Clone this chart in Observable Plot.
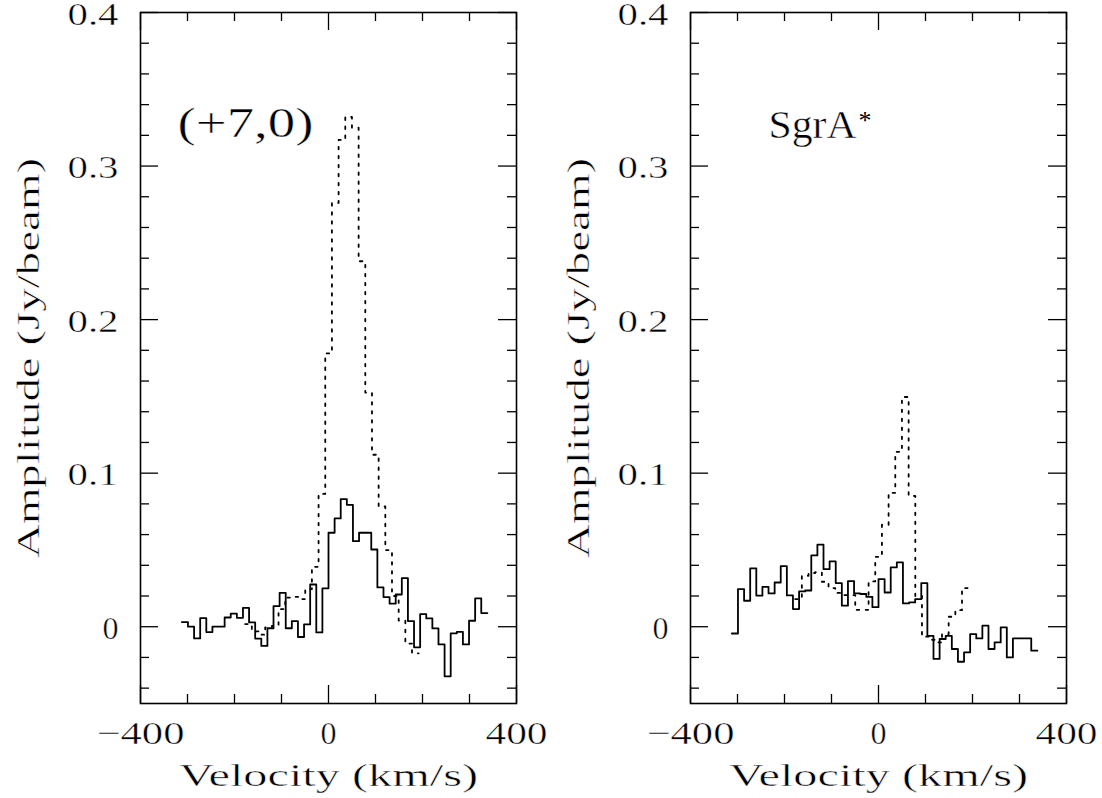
<!DOCTYPE html>
<html><head><meta charset="utf-8">
<script src="https://cdn.jsdelivr.net/npm/d3@7"></script>
<script src="https://cdn.jsdelivr.net/npm/@observablehq/plot@0.6"></script>
<style>
html,body{margin:0;padding:0;background:#fff;}
#wrap{position:relative;width:1102px;height:798px;background:#fff;}
#wrap svg{position:absolute;top:0;}
#wrap svg text{font-family:"Liberation Serif","Times New Roman",serif;}
</style></head><body><div id="wrap"></div>
<script>
// Channel grids (km/s)
const solidStart = -312, solidWidth = 13;
const dottedStart = -177.3, dottedWidth = 14.2;

// Left panel (+7,0)
const leftSolid = [0.003, 0.000, -0.0076, 0.0056, -0.0035, 0.000, 0.000, 0.006, 0.0085, 0.0058,
  0.0123, 0.0028, -0.0077, -0.0125, -0.001, 0.0134, 0.0221, -0.001, 0.0037, -0.0067,
  0.0015, 0.0275, -0.0037, 0.025, 0.0612, 0.0705, 0.0831, 0.0794, 0.0557, 0.0612,
  0.0612, 0.0503, 0.0256, 0.0193, 0.015, 0.021, 0.0317, 0.0037, -0.0134, 0.0082,
  0.0054, -0.0011, -0.0115, -0.0323, -0.0043, -0.0033, -0.0115, 0.0039, 0.0184, 0.0089];
const leftDotted = [0.0017, -0.003, -0.0052, -0.0004, 0.0006, 0.0115, 0.019, 0.0195, 0.018, 0.0245,
  0.039, 0.0865, 0.178, 0.276, 0.317, 0.332, 0.325, 0.238, 0.1525, 0.112,
  0.0783, 0.0499, 0.020, 0.004, -0.011, -0.0173];

// Right panel SgrA*
const rightSolid = [-0.0044, 0.0245, 0.0169, 0.038, 0.0202, 0.026, 0.0217, 0.0288, 0.0395, 0.0204,
  0.0115, 0.023, 0.0236, 0.0464, 0.0534, 0.0375, 0.0425, 0.0284, 0.0137, 0.0297,
  0.0217, 0.0213, 0.0195, 0.0127, 0.031, 0.0223, 0.0386, 0.0419, 0.0152, 0.0158,
  0.018, 0.0284, -0.0059, -0.021, -0.008, -0.0059, -0.0145, -0.0228, -0.0167, -0.0048,
  -0.0076, 0.0007, -0.0145, -0.0102, -0.0004, -0.02, -0.0076, -0.0076, -0.0076, -0.0156];
const rightDotted = [0.018, 0.0332, 0.035, 0.0355, 0.0293, 0.0252, 0.022, 0.0206, 0.0206, 0.011,
  0.011, 0.0295, 0.0455, 0.0664, 0.0872, 0.1139, 0.1496, 0.0852, 0.020, -0.0065,
  -0.0085, -0.0102, -0.0048, 0.0065, 0.0108, 0.0252];

// Axes
const xMajorTicks = [-400, 0, 400];
const xTickLabels = ["\u2212400", "0", "400"];
const xMinorTicks = [-300, -200, -100, 100, 200, 300];
const yMajorTicks = [0, 0.1, 0.2, 0.3, 0.4];
const yTickLabels = ["0", "0.1", "0.2", "0.3", "0.4"];
const yMinorTicks = [-0.04, -0.02, 0.02, 0.04, 0.06, 0.08, 0.12, 0.14, 0.16, 0.18,
  0.22, 0.24, 0.26, 0.28, 0.32, 0.34, 0.36, 0.38];
const xLabel = "Velocity (km/s)";
const yLabel = "Amplitude (Jy/beam)";
const leftTitle = "(+7,0)";
const rightTitle = "SgrA";
const rightTitleSup = "*";

// rendered widths (px) of the wide plotting font, used to stretch the glyphs
const textWidths = new Map([
  ["\u2212400", 88], ["0", 16], ["400", 62],
  ["0.1", 51], ["0.2", 51], ["0.3", 51], ["0.4", 51],
  [xLabel, 299], [yLabel, 400], [leftTitle, 136], [rightTitle, 88]
]);

const FONT = "Liberation Serif";

function steps(values, start, width) {
  const pts = values.map((v, i) => ({v: start + i * width, a: v}));
  pts.push({v: start + values.length * width, a: values[values.length - 1]});
  return pts;
}

function panel(solid, dotted, W, ml, mr, titleMarks) {
  const mt = 12, mb = 95, H = 798;
  const fw = W - ml - mr, fh = H - mt - mb;
  const k = {stroke: "#000", strokeWidth: 1.3};
  const t = {fill: "#000", fontFamily: FONT, fontSize: 32};
  return Plot.plot({
    width: W, height: H,
    marginLeft: ml, marginRight: mr, marginTop: mt, marginBottom: mb,
    x: {domain: [-400, 400], axis: null},
    y: {domain: [-0.05, 0.4], axis: null},
    style: {fontFamily: FONT, fontSize: "32px", background: "transparent", color: "#000", overflow: "visible"},
    marks: [
      Plot.tickX(xMinorTicks, {x: d => d, insetTop: fh - 9, ...k}),
      Plot.tickX(xMinorTicks, {x: d => d, insetBottom: fh - 9, ...k}),
      Plot.tickX(xMajorTicks, {x: d => d, insetTop: fh - 18, ...k}),
      Plot.tickX(xMajorTicks, {x: d => d, insetBottom: fh - 18, ...k}),
      Plot.tickY(yMinorTicks, {y: d => d, insetRight: fw - 9, ...k}),
      Plot.tickY(yMinorTicks, {y: d => d, insetLeft: fw - 9, ...k}),
      Plot.tickY(yMajorTicks, {y: d => d, insetRight: fw - 18, ...k}),
      Plot.tickY(yMajorTicks, {y: d => d, insetLeft: fw - 18, ...k}),
      Plot.frame({stroke: "#000", strokeWidth: 1.6}),
      Plot.line(steps(dotted, dottedStart, dottedWidth), {x: "v", y: "a", curve: "step-after", stroke: "#000", strokeWidth: 1.8, strokeDasharray: "2.5,6.5"}),
      Plot.line(steps(solid, solidStart, solidWidth), {x: "v", y: "a", curve: "step-after", stroke: "#000", strokeWidth: 1.8}),
      Plot.text(xMajorTicks, {x: d => d, text: (d, i) => xTickLabels[i], frameAnchor: "bottom", textAnchor: "middle", lineAnchor: "bottom", dy: 40, ...t}),
      Plot.text(yMajorTicks, {y: d => d, text: (d, i) => yTickLabels[i], frameAnchor: "left", textAnchor: "end", lineAnchor: "bottom", dx: -22, dy: 12, ...t}),
      Plot.text([xLabel], {text: d => d, frameAnchor: "bottom", textAnchor: "middle", lineAnchor: "bottom", dy: 82, ...t}),
      Plot.text([yLabel], {text: d => d, frameAnchor: "left", textAnchor: "middle", rotate: -90, lineAnchor: "middle", dx: -112, ...t}),
      ...titleMarks
    ]
  });
}

const left = panel(leftSolid, leftDotted, 550, 140, 34, [
  Plot.text([leftTitle], {text: d => d, frameAnchor: "top-left", textAnchor: "start", lineAnchor: "bottom", dx: 37, dy: 124, fontSize: 42, fontFamily: FONT, fill: "#000"})
]);
const right = panel(rightSolid, rightDotted, 552, 140, 36, [
  Plot.text([rightTitle], {text: d => d, frameAnchor: "top-left", textAnchor: "start", lineAnchor: "bottom", dx: 78, dy: 125, fontSize: 40, fontFamily: FONT, fill: "#000"}),
  Plot.text([rightTitleSup], {text: d => d, frameAnchor: "top-left", textAnchor: "start", lineAnchor: "bottom", dx: 168, dy: 116, fontSize: 26, fontFamily: FONT, fill: "#000"})
]);
left.style.left = "0px";
right.style.left = "550px";
const wrap = document.getElementById("wrap");
wrap.appendChild(left);
wrap.appendChild(right);

// stretch glyphs to the wide plotting font widths, and thin the strokes slightly
for (const svg of [left, right]) {
  d3.select(svg).selectAll("text").each(function() {
    const w = textWidths.get(this.textContent);
    if (w) {
      this.setAttribute("textLength", w);
      this.setAttribute("lengthAdjust", "spacingAndGlyphs");
    }
    if (this.textContent !== rightTitleSup) {
      this.style.stroke = "#fff";
      this.style.strokeWidth = "0.45px";
      this.style.paintOrder = "normal";
    }
  });
}
</script>
</body></html>
